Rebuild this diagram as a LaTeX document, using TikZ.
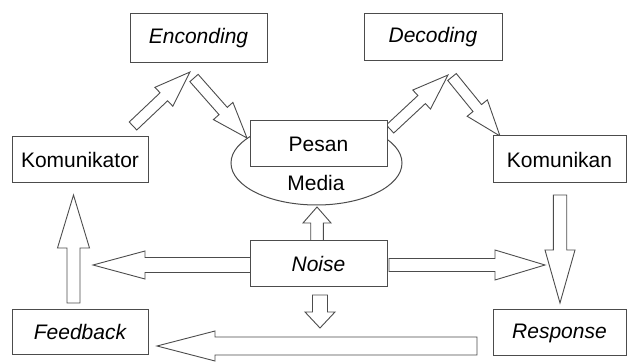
\documentclass[tikz,border=0pt]{standalone}
\usepackage{fontspec}
\setmainfont{Liberation Sans}
\usetikzlibrary{shapes.geometric}
\definecolor{linec}{gray}{0.3}
\tikzset{
  box/.style={draw=linec, line width=1pt, fill=white, inner sep=0pt,
    font=\fontsize{21}{25}\selectfont, text=black},
  ibox/.style={box, font=\fontsize{21}{25}\selectfont\itshape},
  blockarrow/.style={draw=linec, line width=0.9pt, fill=white, line join=miter},
}
% block arrow: from, to, shaft half-width, head half-width, head length
\newcommand\barrow[5]{%
  \path (#1); \pgfgetlastxy{\bax}{\bay}%
  \path (#2); \pgfgetlastxy{\bbx}{\bby}%
  \pgfmathsetmacro\bang{atan2((\bby)-(\bay),(\bbx)-(\bax))}%
  \pgfmathsetmacro\blen{veclen((\bbx)-(\bax),(\bby)-(\bay))}%
  \pgfmathsetmacro\bneck{\blen-#5}%
  \draw[blockarrow, shift={(\bax,\bay)}, rotate=\bang]
    (0pt,-#3pt) -- (\bneck pt,-#3pt) -- (\bneck pt,-#4pt) -- (\blen pt,0pt)
    -- (\bneck pt,#4pt) -- (\bneck pt,#3pt) -- (0pt,#3pt) -- cycle;%
}
\begin{document}
\begin{tikzpicture}[x=1pt,y=-1pt]
\useasboundingbox (0,0) rectangle (627,363);

% ellipse (Media)
\node[draw=linec, line width=1pt, ellipse, minimum width=171pt, minimum height=84pt,
      inner sep=0pt] (media) at (316.5,163) {};
\node[font=\fontsize{21}{25}\selectfont] (medialbl) at (316,183) {Media};

% arrow end points
\coordinate (a1s) at (133,126); \coordinate (a1e) at (190,72);
\coordinate (a2s) at (194,78);  \coordinate (a2e) at (247,138);
\coordinate (a3s) at (390,129); \coordinate (a3e) at (448,75);
\coordinate (a4s) at (452,77);  \coordinate (a4e) at (500,136);
\coordinate (a5s) at (317,241); \coordinate (a5e) at (317,207);
\coordinate (a6s) at (252,265); \coordinate (a6e) at (93,265);
\coordinate (a7s) at (389,265); \coordinate (a7e) at (545,265);
\coordinate (a8s) at (560,195); \coordinate (a8e) at (560,303);
\coordinate (a9s) at (73.5,303); \coordinate (a9e) at (73.5,195);
\coordinate (a10s) at (320,295); \coordinate (a10e) at (320,328);
\coordinate (a11s) at (477,346); \coordinate (a11e) at (157,346);

\barrow{a1s}{a1e}{5.5}{13}{36}
\barrow{a2s}{a2e}{5.5}{13}{36}
\barrow{a3s}{a3e}{5.5}{13}{36}
\barrow{a4s}{a4e}{5.5}{13}{36}
\barrow{a5s}{a5e}{6.3}{14}{16}
\barrow{a6s}{a6e}{7.5}{14}{52}
\barrow{a7s}{a7e}{6.5}{15}{50}
\barrow{a8s}{a8e}{6.7}{15}{53}
\barrow{a9s}{a9e}{6.5}{16}{53}
\barrow{a10s}{a10e}{7.5}{15}{16}
\barrow{a11s}{a11e}{9}{15}{58}

% boxes
\node[ibox, minimum width=137pt, minimum height=49pt] (enc) at (198.5,38.5) {Enconding};
\node[ibox, minimum width=138pt, minimum height=47pt] (dec) at (433,37.5) {Decoding};
\node[box, minimum width=136pt, minimum height=46pt] (kmr) at (80,160) {Komunikator};
\node[box, minimum width=133pt, minimum height=47pt] (kmn) at (559.5,159.5) {Komunikan};
\node[box, minimum width=137pt, minimum height=46pt] (pesan) at (318.5,144) {Pesan};
\node[ibox, minimum width=137pt, minimum height=46pt] (noise) at (318.5,264) {Noise};
\node[ibox, minimum width=136pt, minimum height=45pt] (fb) at (80,332.5) {Feedback};
\node[ibox, minimum width=133pt, minimum height=46pt] (resp) at (559.5,333) {Response};
\end{tikzpicture}
\end{document}
